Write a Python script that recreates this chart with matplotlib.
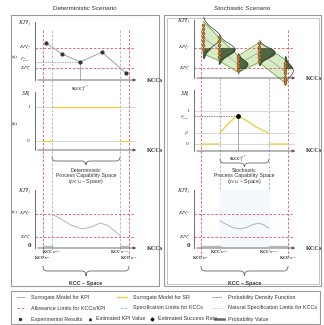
import numpy as np
import matplotlib.pyplot as plt
from matplotlib.path import Path
from matplotlib.patches import PathPatch, Rectangle

plt.rcParams['font.family'] = ['Liberation Serif', 'DejaVu Serif']
plt.rcParams['mathtext.fontset'] = 'stix'

W, H = 324, 325

# ---------------- deterministic scenario ----------------
det_kcc = [1.06, 2.6, 4.33, 6.44, 8.75]
det_kpi = [6.4, 4.5, 3.1, 4.8, 1.2]
det_kpi_u, det_kpi_l = 5.5, 2.1
det_allow = [0.77, 9.04]
det_spec = [1.63, 8.17]
det_kcc_p = 4.33
det_sr_kcc = [0.77, 1.63, np.nan, 1.63, 8.17, np.nan, 8.17, 9.04]
det_sr = [0, 0, np.nan, 1, 1, np.nan, 0, 0]
det_c_kcc = [1.63, 2.5, 3.4, 4.5, 5.4, 6.25, 7.0, 7.6, 8.17]
det_c_kpi = [5.86, 5.0, 4.0, 3.3, 3.6, 4.3, 3.9, 3.0, 2.2]
det_c_u, det_c_l = 5.86, 1.9

# ---------------- stochastic scenario ----------------
sto_cols = [0.87, 2.4, 4.23, 6.25, 8.75]
sto_mean = [7.0, 5.0, 2.4, 4.4, 1.2]
sto_sd = [1.4, 1.0, 0.7, 0.85, 1.0]
sto_pdf_w = [1.7, 1.5, 0.9, 1.5, 0.8]
sto_exp = [
    [9.2, 8.5, 7.8, 7.1, 6.4, 5.7, 5.0],
    [7.1, 6.4, 5.7, 5.0, 4.3, 3.6],
    [3.8, 3.2, 2.6, 2.0, 1.4],
    [6.0, 5.4, 4.8, 4.2, 3.6, 3.0],
    [2.6, 2.0, 1.4, 0.8, 0.2, -0.4, -0.9],
]
sto_kpi_u, sto_kpi_l = 5.17, 1.72
sto_allow = [0.67, 9.04]
sto_spec = [2.5, 7.2]
sto_kcc_p = 4.23
sto_pc = 0.85
sto_beta = 0.33
sto_sr_kcc = [0.67, 2.5, np.nan, 2.5, 3.0, 3.5, 3.9, 4.23, 5.0, 5.8, 6.6, 7.2, np.nan, 7.2, 9.04]
sto_sr = [0, 0, np.nan, 0.33, 0.52, 0.68, 0.79, 0.85, 0.72, 0.55, 0.42, 0.33, np.nan, 0, 0]
sto_c_kcc = [2.5, 3.2, 3.8, 4.4, 5.0, 5.6, 6.2, 6.7, 7.2]
sto_c_kpi = [4.65, 4.0, 3.5, 3.3, 3.5, 4.0, 4.3, 4.0, 3.4]

# colours
red = '#e2555c'
blue = '#8db9dc'
yellow = '#f0d04a'
grey = '#9aa2aa'
axc = '#555555'
txt = '#333333'
band = '#d8ecc4'
dark_green = '#4f6645'


def px_axes(fig, l, t, r, b, z=2):
    ax = fig.add_axes([l / W, 1 - b / H, (r - l) / W, (b - t) / H], zorder=z)
    ax.patch.set_visible(False)
    return ax


def style(ax, ylim):
    ax.set_xlim(0, 10)
    ax.set_ylim(*ylim)
    for s in ['top', 'right', 'bottom']:
        ax.spines[s].set_visible(False)
    ax.spines['left'].set_color(axc)
    ax.spines['left'].set_linewidth(0.6)
    ax.set_xticks([])
    ax.set_yticks([])
    ax.annotate('', xy=(1.0, 0), xytext=(0, 0), xycoords='axes fraction',
                arrowprops=dict(arrowstyle='-|>', color=axc, lw=0.6, mutation_scale=4))
    ax.text(1.08, 0, 'KCCs', transform=ax.transAxes, ha='left', va='center',
            fontsize=4.6, weight='bold', color=txt)


def brace(ax, x0, x1, y, h, q=0.4):
    xm = (x0 + x1) / 2
    verts = [(x0, y), (x0, y + h / 2), (x0 + q, y + h / 2),
             (xm - q, y + h / 2),
             (xm, y + h / 2), (xm, y + h),
             (xm, y + h / 2), (xm + q, y + h / 2),
             (x1 - q, y + h / 2),
             (x1, y + h / 2), (x1, y)]
    codes = [Path.MOVETO, Path.CURVE3, Path.CURVE3, Path.LINETO,
             Path.CURVE3, Path.CURVE3, Path.CURVE3, Path.CURVE3,
             Path.LINETO, Path.CURVE3, Path.CURVE3]
    ax.add_patch(PathPatch(Path(verts, codes), fill=False, color='#666', lw=0.6, clip_on=False))


fig = plt.figure(figsize=(W / 100, H / 100), dpi=100)

# overlay in pixel coordinates
ov = fig.add_axes([0, 0, 1, 1], zorder=0)
ov.set_xlim(0, W)
ov.set_ylim(H, 0)
ov.axis('off')
ov.add_patch(Rectangle((11, 15), 148, 271, fill=False, ec='#999', lw=0.8))
ov.add_patch(Rectangle((164, 15), 157, 271, fill=False, ec='#999', lw=0.8))
ov.add_patch(Rectangle((166.5, 17.5), 152, 266, fill=False, ec='#bbb', lw=0.6))
ov.add_patch(Rectangle((11, 291), 309, 33, fill=False, ec='#999', lw=0.8))
ov.text(85, 9, 'Deterministic Scenario', ha='center', va='center', fontsize=4.6,
        family='Liberation Sans', color=txt)
ov.text(242, 9, 'Stochastic Scenario', ha='center', va='center', fontsize=4.6,
        family='Liberation Sans', color=txt)
for lab, yy in [('(a)', 57), ('(b)', 123), ('(c)', 212)]:
    ov.text(12, yy, lab, ha='left', va='center', fontsize=3.8, color=txt)

# ---------------- panels ----------------
panels = [
    dict(x0=35, a=(22, 80), b=(92, 150), b_lim=(-0.26, 1.44), c=(190, 248),
         allow=det_allow, spec=det_spec, kcc_p=det_kcc_p, kpi_u=det_kpi_u, kpi_l=det_kpi_l,
         title=['Deterministic', 'Process Capability Space', r'($DC_{\Omega}$ – Space)'],
         brace_y=157, c_kcc=det_c_kcc, c_kpi=det_c_kpi),
    dict(x0=194, a=(20, 78), b=(90, 151), b_lim=(-0.21, 1.64), c=(190, 248),
         allow=sto_allow, spec=sto_spec, kcc_p=sto_kcc_p, kpi_u=sto_kpi_u, kpi_l=sto_kpi_l,
         title=['Stochastic', 'Process Capability Space', r'($SC_{\Omega}$ – Space)'],
         brace_y=159, c_kcc=sto_c_kcc, c_kpi=sto_c_kpi),
]

for i, p in enumerate(panels):
    x0 = p['x0']
    col = px_axes(fig, x0, 0, x0 + 104, H, z=1)
    col.set_xlim(0, 10)
    col.set_ylim(H, 0)
    col.axis('off')
    for xv in p['allow']:
        col.plot([xv, xv], [30, 259], ls=(0, (3, 2)), color=red, lw=0.6)
    for xv in p['spec']:
        col.plot([xv, xv], [30 if i == 0 else 78, 250], ls=(0, (3, 2)), color=blue, lw=0.6)
    brace(col, p['spec'][0], p['spec'][1], p['brace_y'], 8)
    xm = (p['spec'][0] + p['spec'][1]) / 2
    for k, line in enumerate(p['title']):
        col.text(xm, 170 + 6 * k, line, ha='center', va='center', fontsize=3.8,
                 family='Liberation Sans', color=txt)
    brace(col, p['allow'][0], p['allow'][1], 266, 10)
    col.text((p['allow'][0] + p['allow'][1]) / 2, 283, 'KCC – Space', ha='center',
             va='center', fontsize=3.8, weight='bold', family='Liberation Sans', color=txt)

    # (a)
    ax = px_axes(fig, x0, p['a'][0], x0 + 104, p['a'][1])
    style(ax, (0, 10))
    ax.text(-0.4, 9.6, r'$KPI_j$', ha='right', va='center', fontsize=4.5, color=txt)
    for yv, lab in [(p['kpi_u'], r'$KPI_j^{u}$'), (p['kpi_l'], r'$KPI_j^{l}$')]:
        ax.plot([0, 9.6], [yv, yv], ls=(0, (3, 2)), color=red, lw=0.6)
        ax.text(-0.4, yv, lab, ha='right', va='center', fontsize=3.5, color=txt)

    # (b)
    bx = px_axes(fig, x0, p['b'][0], x0 + 104, p['b'][1])
    style(bx, p['b_lim'])
    bx.text(-0.4, 1.35 if i == 0 else 1.5, r'$SR_j$', ha='right', va='center', fontsize=4.5, color=txt)
    bx.text(-0.5, 1, '1', ha='right', va='center', fontsize=3.8, color=txt)
    bx.text(-0.5, 0, '0', ha='right', va='center', fontsize=3.8, color=txt)
    bx.plot([0, 9.6], [1, 1], color='#c8c8c8', lw=0.5)
    bx.plot([0, 9.6], [0, 0], color='#c8c8c8', lw=0.5)

    # (c)
    cx = px_axes(fig, x0, p['c'][0], x0 + 104, p['c'][1])
    style(cx, (0, 10))
    cx.text(-0.4, 9.6, r'$KPI_j$', ha='right', va='center', fontsize=4.5, color=txt)
    for yv, lab in [(det_c_u, r'$KPI_j^{u}$'), (det_c_l, r'$KPI_j^{l}$')]:
        cx.plot([0, 9.6], [yv, yv], ls=(0, (3, 2)), color=red, lw=0.6)
        cx.text(-0.4, yv, lab, ha='right', va='center', fontsize=3.5, color=txt)
    cx.text(-0.4, 0.5, '0', ha='right', va='center', fontsize=5, weight='bold', color=txt)
    cx.plot(p['c_kcc'], p['c_kpi'], color='#aab4c2', lw=0.7)
    if i == 1:
        cx.fill_between([p['spec'][0], p['spec'][1]], 0, 10, color='#f4f9fd', zorder=0)
    cx.plot([p['allow'][0], p['spec'][0]], [0.4, 0.4], color='#bbb', lw=1.0)
    cx.plot([p['spec'][1], p['allow'][1]], [0.4, 0.4], color='#bbb', lw=1.0)
    cx.text(p['spec'][0], -0.7, r'$\mathbf{KCCs}^{LSL}$', ha='center', va='center', fontsize=3.3, color=txt)
    cx.text(p['spec'][1], -0.7, r'$\mathbf{KCCs}^{USL}$', ha='center', va='center', fontsize=3.3, color=txt)
    cx.text(p['allow'][0], -1.8, r'$\mathbf{KCCs}^{LL}$', ha='center', va='center', fontsize=3.3, color=txt)
    cx.text(p['allow'][1], -1.8, r'$\mathbf{KCCs}^{UL}$', ha='center', va='center', fontsize=3.3, color=txt)

    if i == 0:
        ax.plot(det_kcc, det_kpi, color=grey, lw=0.7)
        ax.scatter(det_kcc, det_kpi, s=4, color='#333', zorder=5)
        ax.plot([0, det_kcc_p], [det_kpi[2], det_kpi[2]], ls=(0, (2, 1.5)), color='#888', lw=0.5)
        ax.plot([det_kcc_p, det_kcc_p], [0, det_kpi[2]], color='#888', lw=0.5)
        ax.text(-0.4, det_kpi[2] + 0.4, r'$P^{C}_{KCC}$', ha='right', va='center', fontsize=3.0, color=txt)
        ax.text(det_kcc_p, -0.6, r'$\mathbf{KCC}_i^{p*}$', ha='center', va='top', fontsize=3.8, color=txt)
        bx.plot(det_sr_kcc, det_sr, color=yellow, lw=1.0)
    else:
        upper = [m + 2 * s for m, s in zip(sto_mean, sto_sd)]
        lower = [m - 2 * s for m, s in zip(sto_mean, sto_sd)]
        ax.fill_between(sto_cols, lower, upper, color=band, zorder=1, clip_on=False)
        ax.plot(sto_cols, upper, color='#6f9a5a', lw=0.5, zorder=2, clip_on=False)
        ax.plot(sto_cols, lower, color='#6f9a5a', lw=0.5, zorder=2, clip_on=False)
        ax.plot(sto_cols, sto_mean, color=grey, lw=0.5, zorder=2)
        for xc, m, s, w, ys in zip(sto_cols, sto_mean, sto_sd, sto_pdf_w, sto_exp):
            yy = np.linspace(m - 2.5 * s, m + 2.5 * s, 80)
            xx = xc + w * np.exp(-0.5 * ((yy - m) / s) ** 2)
            inside = (yy >= sto_kpi_l) & (yy <= sto_kpi_u)
            ax.fill_betweenx(yy, xc, xx, where=inside, color=dark_green, zorder=3, clip_on=False)
            ax.plot(xx, yy, color='#2f3d2a', lw=0.5, zorder=4, clip_on=False)
            ax.plot([xc, xc], [min(ys), max(ys)], color='#5a4a2a', lw=0.5, zorder=4, clip_on=False)
            ax.scatter([xc] * len(ys), ys, s=5, color='#c97b2e', edgecolors='#6b3f16',
                       linewidths=0.3, zorder=5, clip_on=False)
        bx.plot([0, 9.6], [sto_beta, sto_beta], color='#c8c8c8', lw=0.5)
        bx.plot(sto_sr_kcc, sto_sr, color=yellow, lw=1.0)
        bx.plot([0, sto_kcc_p], [sto_pc, sto_pc], ls=(0, (2, 1.5)), color='#555', lw=0.5)
        bx.plot([sto_kcc_p, sto_kcc_p], [p['b_lim'][0], sto_pc], color='#888', lw=0.5)
        bx.scatter([sto_kcc_p], [sto_pc], s=6, color='black', zorder=5)
        bx.text(-0.4, sto_pc - 0.05, r'$P^{C}_{KCC}$', ha='right', va='center', fontsize=2.8, color=txt)
        bx.text(-0.5, sto_beta, r'$\beta$', ha='right', va='center', fontsize=3.8, color=txt)
        bx.text(sto_kcc_p, -0.3, r'$\mathbf{KCC}_i^{p*}$', ha='center', va='top', fontsize=3.8, color=txt)

# ---------------- legend ----------------
lf = dict(fontsize=3.9, family='Liberation Sans', color=txt, va='center', ha='left')
r1, r2, r3 = 297, 308, 319
ov.plot([17, 24], [r1, r1], color='#aaa', lw=0.7)
ov.text(31, r1, 'Surrogate Model for KPI', **lf)
ov.plot([117, 127], [r1, r1], color=yellow, lw=1.0)
ov.text(133, r1, 'Surrogate Model for SR', **lf)
ov.plot([212, 222], [r1, r1], color='#444', lw=0.6, ls=(0, (1, 1)))
ov.text(228, r1, 'Probability Density Function', **lf)
ov.plot([17, 24], [r2, r2], color=red, lw=0.6, ls=(0, (3, 2)))
ov.text(31, r2, 'Allowance Limits for KCCs/KPI', **lf)
ov.plot([120, 128], [r2, r2], color=blue, lw=0.6, ls=(0, (3, 2)))
ov.text(133, r2, 'Specification Limits for KCCs', **lf)
ov.plot([212, 222], [r2, r2], color='#ddd', lw=0.6)
ov.text(228, r2, 'Natural Specification Limits for KCCs', **lf)
ov.plot([20], [r3], 'o', ms=1.5, color='#333')
ov.text(31, r3, 'Experimental Results', **lf)
ov.plot([90], [r3], '^', ms=1.5, color='#333')
ov.text(96, r3, 'Estimated KPI Value', **lf)
ov.plot([152], [r3], 'D', ms=1.5, color='#111')
ov.text(158, r3, 'Estimated Success Rate', **lf)
ov.plot([215, 224], [r3, r3], color='#666', lw=1.8)
ov.text(228, r3, 'Probability Value', **lf)

fig.savefig('out.png', dpi=100)
